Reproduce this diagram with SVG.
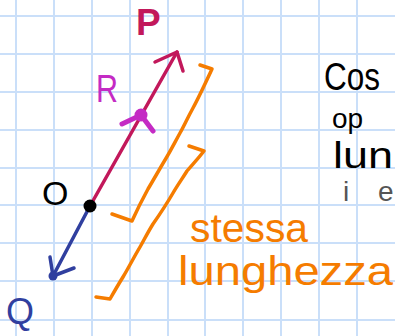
<svg xmlns="http://www.w3.org/2000/svg" width="395" height="336" viewBox="0 0 395 336">
<defs>
<style>
.grid line{stroke:#cadff9;stroke-width:2}
.hand{fill:none;stroke-linecap:round;stroke-linejoin:round}
.txt{font-family:"Liberation Sans","DejaVu Sans",sans-serif}
</style>
</defs>
<rect width="395" height="336" fill="#ffffff"/>
<g class="grid">
<line x1="16" y1="0" x2="16" y2="336"/><line x1="54" y1="0" x2="54" y2="336"/><line x1="92" y1="0" x2="92" y2="336"/><line x1="130" y1="0" x2="130" y2="336"/><line x1="168" y1="0" x2="168" y2="336"/><line x1="205" y1="0" x2="205" y2="336"/><line x1="243" y1="0" x2="243" y2="336"/><line x1="281" y1="0" x2="281" y2="336"/><line x1="319" y1="0" x2="319" y2="336"/><line x1="357" y1="0" x2="357" y2="336"/>
<line x1="0" y1="16" x2="395" y2="16"/><line x1="0" y1="54" x2="395" y2="54"/><line x1="0" y1="92" x2="395" y2="92"/><line x1="0" y1="130" x2="395" y2="130"/><line x1="0" y1="168" x2="395" y2="168"/><line x1="0" y1="205" x2="395" y2="205"/><line x1="0" y1="243" x2="395" y2="243"/><line x1="0" y1="281" x2="395" y2="281"/><line x1="0" y1="320" x2="395" y2="320"/>
</g>
<g id="connectors" class="hand">
<path d="M90,206 L177,52" stroke="#c2185b" stroke-width="3.5"/>
<path d="M155,62 L177,52 L183,71" stroke="#c2185b" stroke-width="3.5"/>
<path d="M90,206 L53,276" stroke="#303f9f" stroke-width="3.5"/>
<path d="M50,257 L53,276 L74,268" stroke="#303f9f" stroke-width="3.5"/>
</g>
<g id="brackets" class="hand" stroke="#f57c00" stroke-width="3.5">
<path d="M200,65 L212,69 C205,84 199,97 193,108 C187,119 184,126 180,133 C174,144 170,152 165,160 C159,170 154,179 148,189 C142,200 137,210 132,221 L112,214"/>
<path d="M189,146 L204,151 C197,160 192,165 187,171 C182,179 177,186 173,193 C166,205 160,214 153,224 C148,232 144,240 140,247 C134,257 129,267 123,277 C118,285 114,292 110,299 L96,297"/>
</g>
<g id="node-O">
<circle cx="90" cy="206" r="6.5" fill="#000000"/>
<text class="txt" x="42" y="205" font-size="34" fill="#000000">O</text>
</g>
<g id="node-P">
<text class="txt" x="136" y="35" font-size="37" font-weight="bold" fill="#c2185b">P</text>
</g>
<g id="node-R">
<path class="hand" d="M122,124 L141,115 L153,131" stroke="#c42bc4" stroke-width="5"/>
<circle cx="141" cy="115" r="6.5" fill="#c42bc4"/>
<text class="txt" x="96" y="102" font-size="38" fill="#c42bc4" textLength="22" lengthAdjust="spacingAndGlyphs">R</text>
</g>
<g id="node-Q">
<circle cx="53" cy="276" r="4.5" fill="#303f9f"/>
<text class="txt" x="6" y="324" font-size="36" fill="#303f9f">Q</text>
</g>
<g id="label-length" class="txt" fill="#f57c00">
<text x="190" y="242" font-size="40" textLength="118" lengthAdjust="spacingAndGlyphs">stessa</text>
<text x="178" y="285" font-size="40" textLength="215" lengthAdjust="spacingAndGlyphs">lunghezza</text>
</g>
<g id="label-right" class="txt">
<text x="324" y="90" font-size="38" fill="#000000" textLength="56" lengthAdjust="spacingAndGlyphs">Cos</text>
<text x="332" y="128" font-size="28" fill="#000000">op</text>
<text x="333" y="168" font-size="36" fill="#000000" textLength="60" lengthAdjust="spacingAndGlyphs">lun</text>
<text x="343" y="201" font-size="28" fill="#555555">i<tspan x="378">e</tspan></text>
</g>
</svg>
